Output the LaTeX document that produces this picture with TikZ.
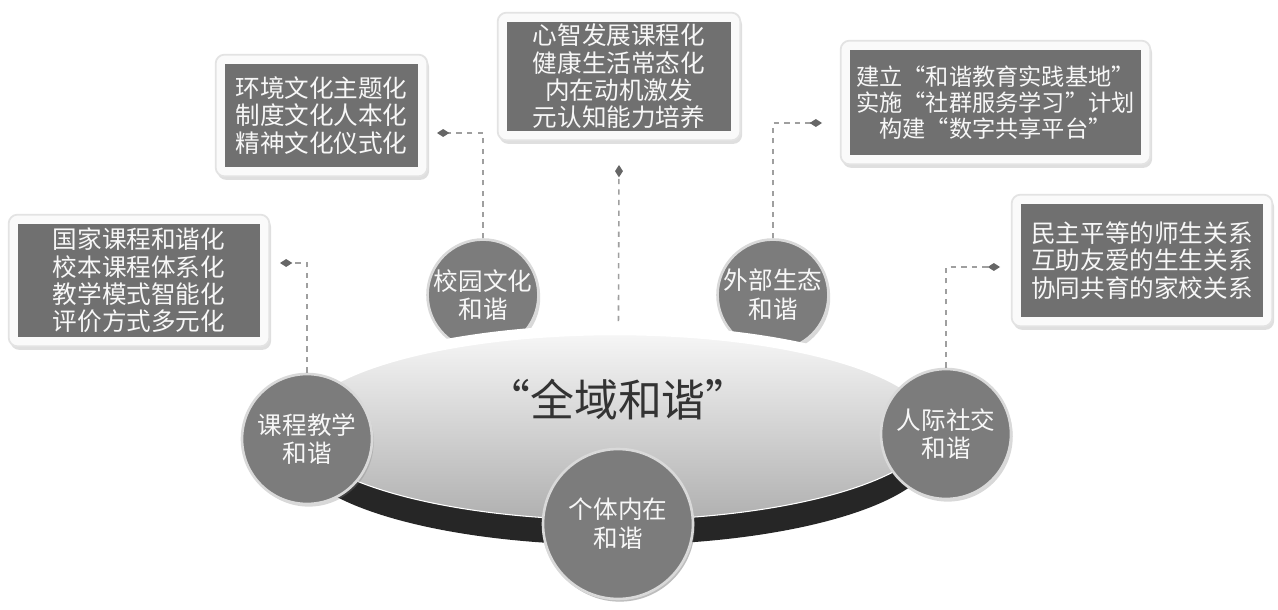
\documentclass[tikz,border=0pt]{standalone}
\usepackage{fontspec}
\newfontfamily\cjk{Noto Sans CJK SC}
\usetikzlibrary{arrows.meta,positioning,fit,backgrounds,shadows}
\definecolor{boxgray}{RGB}{112,112,112}
\definecolor{circgray}{RGB}{124,124,124}
\definecolor{rimdark}{RGB}{38,38,38}

\begin{document}
\begin{tikzpicture}[x=0.02cm,y=0.02cm,
  txt/.style={text=white!94!gray, align=center, font=\cjk\fontsize{14}{15.6}\selectfont},
  itembox/.style={txt, fill=boxgray, inner sep=0pt},
  frame/.style={fill=gray!4, draw=gray!22, line width=1pt, rounded corners=5pt, inner sep=0.18cm,
    drop shadow={shadow xshift=1pt, shadow yshift=-2pt, opacity=0.25}},
  hub/.style={txt, circle, fill=circgray, draw=gray!30, line width=1.5pt, inner sep=0pt,
    font=\cjk\fontsize{14}{16.4}\selectfont,
    drop shadow={shadow xshift=1pt, shadow yshift=-1.5pt, opacity=0.3}},
  conn/.style={draw=gray!75, dashed, line width=0.9pt, -{Diamond[length=7pt,width=4.5pt,color=black!60]}}]

  % text boxes
  \node[itembox, minimum width=4.84cm, minimum height=2.26cm] (b1) at (139,328.5)
    {国家课程和谐化\\校本课程体系化\\教学模式智能化\\评价方式多元化};
  \node[itembox, minimum width=3.86cm, minimum height=2.06cm] (b2) at (321.5,493.5)
    {环境文化主题化\\制度文化人本化\\精神文化仪式化};
  \node[itembox, minimum width=4.48cm, minimum height=2.18cm] (b3) at (619,532.5)
    {心智发展课程化\\健康生活常态化\\内在动机激发\\元认知能力培养};
  \node[itembox, minimum width=5.82cm, minimum height=2.10cm, font=\cjk\fontsize{13.2}{15}\selectfont] (b4) at (995.5,506.5)
    {建立“和谐教育实践基地”\\实施“社群服务学习”计划\\构建“数字共享平台”};
  \node[itembox, minimum width=4.84cm, minimum height=2.26cm] (b5) at (1142,348.5)
    {民主平等的师生关系\\互助友爱的生生关系\\协同共育的家校关系};

  \begin{scope}[on background layer]
    \fill[white] (0,0) rectangle (1278,609);
    \foreach \b in {b1,b2,b3,b4,b5}
      \node[frame, fit=(\b)] {};
  \end{scope}

  % free ends of the connectors
  \coordinate (d1) at (280,346);
  \coordinate (d2) at (437,476);
  \coordinate (d3) at (619,444);
  \coordinate (d4) at (822,486);
  \coordinate (d5) at (1000,342);

  % back circles
  \node[hub, minimum size=2.08cm] (c2) at (483,314) {校园文化\\和谐};
  \node[hub, minimum size=2.08cm] (c4) at (773,314) {外部生态\\和谐};
  \draw[conn] (c2.north) |- (d2);
  \draw[conn] (c4.north) |- (d4);
  \node[hub, minimum size=3cm] (c3) at (618,85) {};
  \draw[conn] (c3.north) -- (d3);

  % platform
  \fill[rimdark] (615,159) ellipse [x radius=6.4cm, y radius=1.9cm];
  \shade[top color=gray!6, middle color=gray!28, bottom color=gray!62]
    (615,184) ellipse [x radius=6.4cm, y radius=1.9cm];
  \draw[white, line width=0.6pt] (615,184) ellipse [x radius=6.4cm, y radius=1.9cm];
  \draw[white, line width=6pt] (935,184) arc [start angle=0, end angle=180, x radius=6.4cm, y radius=1.9cm];
  \node[font=\cjk\fontsize{25}{30}\selectfont, text=black!80] (hub) at (618,209) {“全域和谐”};

  % front circles
  \node[hub, minimum size=2.6cm] (c1) at (307,170) {课程教学\\和谐};
  \node[hub, minimum size=3cm] at (c3) {个体内在\\和谐};
  \node[hub, minimum size=2.6cm] (c5) at (946,175) {人际社交\\和谐};
  \draw[conn] (c1.north) |- (d1);
  \draw[conn] (c5.north) |- (d5);
\end{tikzpicture}
\end{document}
